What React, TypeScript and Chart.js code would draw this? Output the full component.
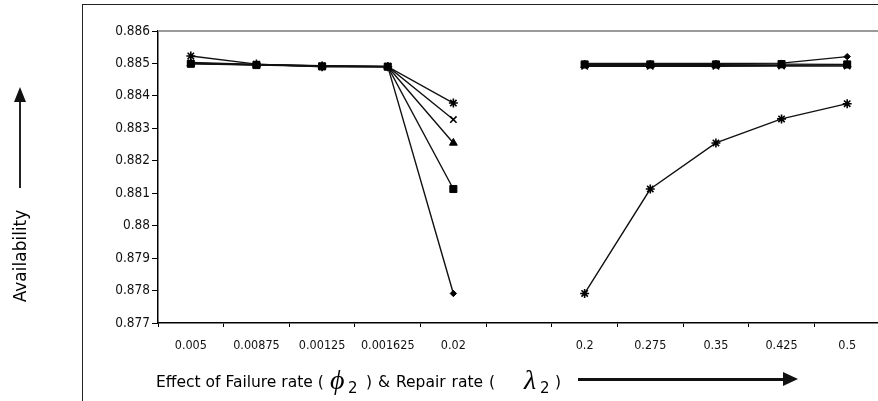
import React, { useEffect, useRef } from "react";
import { Chart, registerables } from "chart.js";

Chart.register(...registerables);

const categories = ["0.005", "0.00875", "0.00125", "0.001625", "0.02", "", "0.2", "0.275", "0.35", "0.425", "0.5"];

const seriesDiamond = [0.88503, 0.88497, 0.88493, 0.88491, 0.87791, null, 0.885, 0.885, 0.885, 0.88501, 0.88521];
const seriesSquare = [0.88499, 0.88495, 0.88491, 0.8849, 0.88113, null, 0.88497, 0.88497, 0.88497, 0.88498, 0.88497];
const seriesTriangle = [0.885, 0.88496, 0.88492, 0.8849, 0.88255, null, 0.88494, 0.88494, 0.88494, 0.88494, 0.88496];
const seriesCross = [0.88501, 0.88496, 0.88492, 0.88491, 0.88327, null, 0.88491, 0.88491, 0.88491, 0.88492, 0.88492];
const seriesStar = [0.88523, 0.88498, 0.8849, 0.8849, 0.88378, null, 0.87791, 0.88113, 0.88255, 0.88329, 0.88376];

const yMin = 0.877;
const yMax = 0.886;
const yStep = 0.001;

const tickFont = "'Liberation Sans Narrow', 'DejaVu Sans Condensed', 'DejaVu Sans', sans-serif";

const topBorderPlugin = {
  id: "topBorder",
  afterDraw(chart: any) {
    const { ctx, chartArea } = chart;
    ctx.save();
    ctx.strokeStyle = "#9a9a9a";
    ctx.lineWidth = 2;
    ctx.beginPath();
    ctx.moveTo(chartArea.left, chartArea.top);
    ctx.lineTo(chartArea.right + 20, chartArea.top);
    ctx.stroke();
    ctx.restore();
  },
};

export default function App() {
  const ref = useRef<HTMLCanvasElement | null>(null);

  useEffect(() => {
    if (!ref.current) return;
    const mk = (label: string, data: (number | null)[], style: any, radius: number, bw: number) => ({
      label,
      data,
      borderColor: "#111",
      borderWidth: 1.4,
      pointStyle: style,
      pointRadius: radius,
      pointBorderWidth: bw,
      pointBackgroundColor: "#000",
      pointBorderColor: "#000",
      spanGaps: false,
      tension: 0,
      fill: false,
    });
    const chart = new Chart(ref.current, {
      type: "line",
      data: {
        labels: categories,
        datasets: [
          mk("diamond", seriesDiamond, "rectRot", 3.2, 1),
          mk("square", seriesSquare, "rect", 5, 1),
          mk("triangle", seriesTriangle, "triangle", 4.5, 1),
          mk("cross", seriesCross, "crossRot", 4.5, 1.6),
          mk("star", seriesStar, "star", 4.5, 1.6),
        ],
      },
      options: {
        responsive: false,
        animation: false,
        layout: { padding: { top: 31, right: 20, left: 0, bottom: 0 } },
        plugins: { legend: { display: false }, tooltip: { enabled: false } },
        scales: {
          x: {
            type: "category",
            offset: true,
            grid: { offset: true, drawOnChartArea: false, drawTicks: true, tickLength: 4, color: "#000", lineWidth: 1 },
            border: { display: true, color: "#000", width: 1.5 },
            ticks: { color: "#111", font: { family: tickFont, size: 12.5 }, padding: 11, maxRotation: 0, autoSkip: false },
            afterFit: (s: any) => {
              s.height = 78;
            },
          },
          y: {
            min: yMin,
            max: yMax,
            grid: { drawOnChartArea: false, drawTicks: true, tickLength: 6, color: "#000", lineWidth: 1 },
            border: { display: true, color: "#000", width: 1.5 },
            ticks: {
              stepSize: yStep,
              color: "#111",
              font: { family: tickFont, size: 13.5 },
              padding: 2,
              callback: (v: any) => String(Number(Number(v).toFixed(3))),
            },
            afterFit: (s: any) => {
              s.width = 158;
            },
          },
        },
      },
      plugins: [topBorderPlugin],
    });
    return () => chart.destroy();
  }, []);

  const titleFont = "'DejaVu Sans', sans-serif";
  const greek = { fontFamily: "'Liberation Serif', serif", fontStyle: "italic" as const, fontSize: 28, lineHeight: 1 };

  return (
    <div style={{ position: "fixed", left: 0, top: 0, width: 878, height: 401, overflow: "hidden", background: "#fff" }}>
      <div
        style={{
          position: "absolute",
          left: 82,
          top: 4,
          width: 900,
          height: 500,
          borderTop: "1.5px solid #222",
          borderLeft: "1.5px solid #222",
        }}
      />
      <canvas ref={ref} width={900} height={401} style={{ position: "absolute", left: 0, top: 0, width: 900, height: 401 }} />
      {/* Y axis title + arrow */}
      <div
        style={{
          position: "absolute",
          left: 20,
          top: 256,
          transform: "translate(-50%, -50%) rotate(-90deg)",
          fontFamily: titleFont,
          fontSize: 17,
          color: "#000",
          whiteSpace: "nowrap",
          lineHeight: 1,
        }}
      >
        Availability
      </div>
      <div style={{ position: "absolute", left: 19, top: 100, width: 2, height: 88, background: "#222" }} />
      <div
        style={{
          position: "absolute",
          left: 14,
          top: 87,
          width: 0,
          height: 0,
          borderLeft: "6px solid transparent",
          borderRight: "6px solid transparent",
          borderBottom: "15px solid #111",
        }}
      />
      {/* X axis title pieces */}
      <div style={{ position: "absolute", left: 156, top: 372, fontFamily: titleFont, fontSize: 15.5, color: "#000", whiteSpace: "nowrap", lineHeight: "20px" }}>
        Effect of Failure rate (
      </div>
      <div style={{ position: "absolute", left: 330, top: 366, whiteSpace: "nowrap", color: "#000", ...greek }}>ϕ</div>
      <div style={{ position: "absolute", left: 348, top: 378, fontFamily: titleFont, fontSize: 15, color: "#000", lineHeight: "20px" }}>2</div>
      <div
        style={{
          position: "absolute",
          left: 366,
          top: 372,
          fontFamily: titleFont,
          fontSize: 15.5,
          color: "#000",
          whiteSpace: "nowrap",
          lineHeight: "20px",
          wordSpacing: 1,
        }}
      >
        ) &amp; Repair rate (
      </div>
      <div style={{ position: "absolute", left: 524, top: 366, whiteSpace: "nowrap", color: "#000", ...greek }}>λ</div>
      <div style={{ position: "absolute", left: 540, top: 378, fontFamily: titleFont, fontSize: 15, color: "#000", lineHeight: "20px" }}>2</div>
      <div style={{ position: "absolute", left: 555, top: 372, fontFamily: titleFont, fontSize: 15.5, color: "#000", lineHeight: "20px" }}>)</div>
      {/* X arrow */}
      <div style={{ position: "absolute", left: 578, top: 378, width: 208, height: 3, background: "#111" }} />
      <div
        style={{
          position: "absolute",
          left: 783,
          top: 372,
          width: 0,
          height: 0,
          borderTop: "7px solid transparent",
          borderBottom: "7px solid transparent",
          borderLeft: "15px solid #111",
        }}
      />
    </div>
  );
}
